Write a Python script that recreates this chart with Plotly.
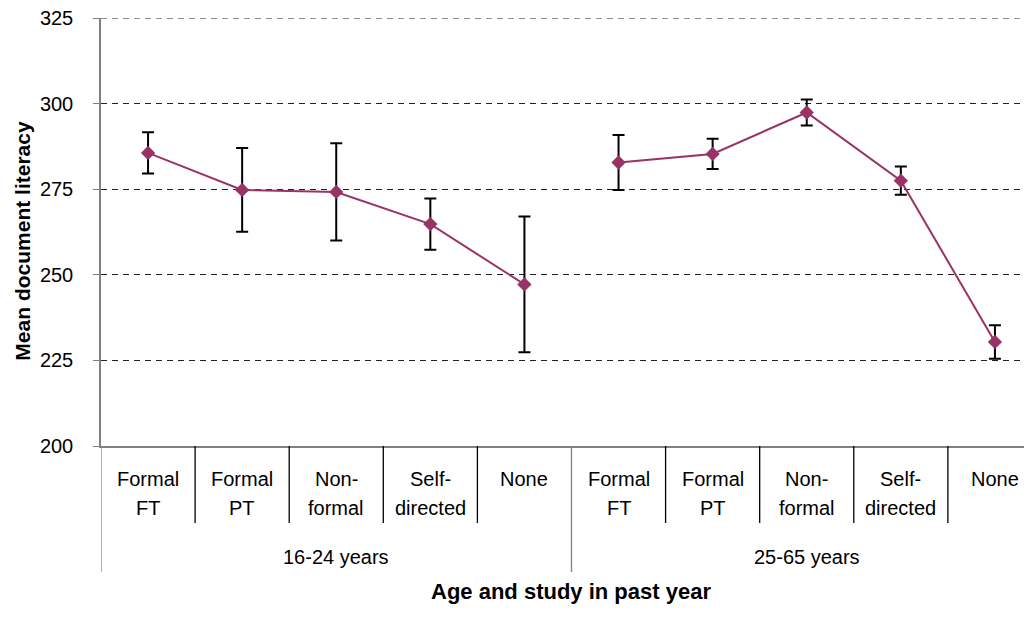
import plotly.graph_objects as go

# ---- data ----
groups = ["16-24 years", "25-65 years"]
cat_line1 = ["Formal", "Formal", "Non-", "Self-", "None"]
cat_line2 = ["FT", "PT", "formal", "directed", ""]
mean_16_24 = [285.6, 274.8, 274.2, 264.8, 247.2]
err_16_24 = [6.0, 12.2, 14.2, 7.5, 19.8]
mean_25_65 = [282.8, 285.3, 297.4, 277.5, 230.4]
err_25_65 = [8.0, 4.4, 3.8, 4.1, 4.9]
y_ticks = [200, 225, 250, 275, 300, 325]

FONT = "Liberation Sans, Arial, sans-serif"
PLUM = "#993366"

fig = go.Figure()
n = len(cat_line1)
for gi, (means, errs) in enumerate([(mean_16_24, err_16_24), (mean_25_65, err_25_65)]):
    xs = [gi * n + i for i in range(n)]
    fig.add_trace(go.Scatter(
        x=xs, y=means, mode="lines+markers",
        line=dict(color=PLUM, width=2),
        marker=dict(symbol="diamond", size=11, color=PLUM),
        error_y=dict(type="data", array=errs, visible=True,
                     color="black", thickness=2, width=6),
        showlegend=False, cliponaxis=False,
    ))

annotations = []
shapes = []
total = n * len(groups)
for gi, g in enumerate(groups):
    for i in range(n):
        x = gi * n + i
        annotations.append(dict(x=x, y=-0.0771, xref="x", yref="paper",
                                text=cat_line1[i], showarrow=False,
                                font=dict(family=FONT, size=20, color="black"),
                                xanchor="center", yanchor="middle"))
        if cat_line2[i]:
            annotations.append(dict(x=x, y=-0.1449, xref="x", yref="paper",
                                    text=cat_line2[i], showarrow=False,
                                    font=dict(family=FONT, size=20, color="black"),
                                    xanchor="center", yanchor="middle"))
    annotations.append(dict(x=gi * n + (n - 1) / 2, y=-0.2593, xref="x", yref="paper",
                            text=g, showarrow=False,
                            font=dict(family=FONT, size=20, color="black"),
                            xanchor="center", yanchor="middle"))

for k in range(total):
    xb = k - 0.5
    if k % n == 0:
        y1 = -0.2944
        col = "#808080"
    else:
        y1 = -0.1799
        col = "black"
    shapes.append(dict(type="line", xref="x", yref="paper", x0=xb, x1=xb,
                       y0=0, y1=y1, line=dict(color=col, width=1.3)))

# top gridline and tick at the upper range edge
shapes.append(dict(type="line", xref="paper", yref="y", x0=0, x1=1,
                   y0=y_ticks[-1], y1=y_ticks[-1],
                   line=dict(color="#222222", width=1, dash="6px,5px")))
shapes.append(dict(type="line", xref="paper", yref="y", x0=-6 / 939, x1=0,
                   y0=y_ticks[-1], y1=y_ticks[-1],
                   line=dict(color="#808080", width=1)))

annotations.append(dict(x=(total - 1) / 2, y=-0.341, xref="x", yref="paper",
                        text="<b>Age and study in past year</b>", showarrow=False,
                        font=dict(family=FONT, size=22, color="black"),
                        xanchor="center", yanchor="middle"))
annotations.append(dict(x=-0.0836, y=0.481, xref="paper", yref="paper",
                        text="<b>Mean document literacy</b>", showarrow=False,
                        textangle=-90,
                        font=dict(family=FONT, size=21, color="black"),
                        xanchor="center", yanchor="middle"))

fig.update_layout(
    width=1032, height=619,
    margin=dict(l=93, r=0, t=10, b=181, autoexpand=False),
    paper_bgcolor="white", plot_bgcolor="white",
    xaxis=dict(range=[-0.5, 9.479], showgrid=False, zeroline=False,
               showticklabels=False, showline=True, linecolor="#808080",
               linewidth=1.5, ticks=""),
    yaxis=dict(range=[200, 325], tickvals=y_ticks, showgrid=True,
               gridcolor="#222222", griddash="6px,5px", gridwidth=1,
               zeroline=False, showline=True, linecolor="#808080", linewidth=1.5,
               ticks="outside", ticklen=6, tickcolor="#808080",
               ticklabelstandoff=16, ticklabeloverflow="allow",
               tickfont=dict(family=FONT, size=20, color="black")),
    annotations=annotations, shapes=shapes,
)

fig.write_html("out.html")
